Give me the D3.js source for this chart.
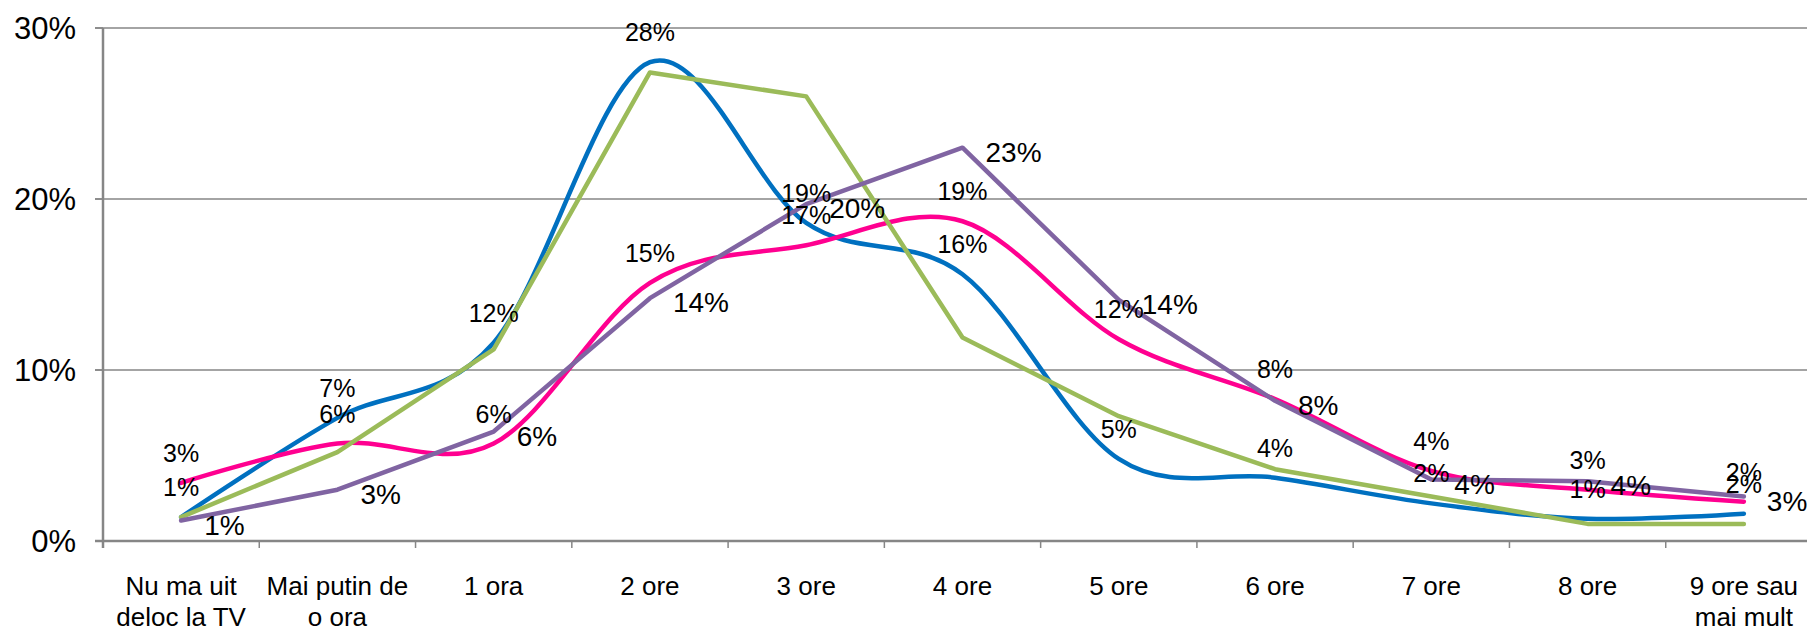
<!DOCTYPE html>
<html>
<head>
<meta charset="utf-8">
<script src="https://cdn.jsdelivr.net/npm/d3@7"></script>
<style>
  html, body { margin: 0; padding: 0; background: #ffffff; }
  svg { display: block; font-family: "Liberation Sans", Arial, sans-serif; }
</style>
</head>
<body>
<svg id="chart" width="1807" height="630"></svg>
<script>
const categories = [
  "Nu ma uit|deloc la TV", "Mai putin de|o ora", "1 ora", "2 ore", "3 ore",
  "4 ore", "5 ore", "6 ore", "7 ore", "8 ore", "9 ore sau|mai mult"
];
const blueValues   = [0.014, 0.072, 0.116, 0.280, 0.186, 0.156, 0.048, 0.037, 0.022, 0.013, 0.016];
const pinkValues   = [0.034, 0.057, 0.057, 0.151, 0.173, 0.187, 0.118, 0.083, 0.041, 0.030, 0.023];
const greenValues  = [0.014, 0.052, 0.112, 0.274, 0.260, 0.119, 0.073, 0.042, 0.026, 0.010, 0.010];
const purpleValues = [0.012, 0.030, 0.064, 0.142, 0.197, 0.230, 0.141, 0.082, 0.036, 0.035, 0.026];
const yTicks = [0, 0.10, 0.20, 0.30];

const series = [
  { values: blueValues,   color: "#0070C0", smooth: true,  label: "above" },
  { values: pinkValues,   color: "#FF0090", smooth: true,  label: "above" },
  { values: greenValues,  color: "#9BBB59", smooth: false, label: "none" },
  { values: purpleValues, color: "#8064A2", smooth: false, label: "right" }
];

const svg = d3.select("#chart");
const x = d3.scaleBand().domain(categories).range([103, 1822]);
const y = d3.scaleLinear().domain([0, 0.30]).range([541, 28]);
const cx = c => x(c) + x.bandwidth() / 2;
const fmt = v => Math.round(v * 100) + "%";

// gridlines
svg.append("g").selectAll("line").data(yTicks.filter(t => t > 0)).join("line")
  .attr("x1", 95).attr("x2", 1807)
  .attr("y1", d => y(d)).attr("y2", d => y(d))
  .attr("stroke", "#868686").attr("stroke-width", 1.5);

// y axis
const yAxis = svg.append("g");
yAxis.append("line").attr("x1", 103).attr("x2", 103).attr("y1", y(0.30)).attr("y2", 548)
  .attr("stroke", "#868686").attr("stroke-width", 2.5);
yAxis.selectAll("line.tk").data(yTicks).join("line").attr("class", "tk")
  .attr("x1", 95).attr("x2", 103).attr("y1", d => y(d)).attr("y2", d => y(d))
  .attr("stroke", "#868686").attr("stroke-width", 1.5);
yAxis.selectAll("text").data(yTicks).join("text")
  .attr("x", 76).attr("y", d => y(d)).attr("dy", "0.36em")
  .attr("text-anchor", "end").attr("font-size", 31).attr("fill", "#000")
  .text(d => Math.round(d * 100) + "%");

// x axis
const xAxis = svg.append("g");
xAxis.append("line").attr("x1", 95).attr("x2", 1807).attr("y1", y(0)).attr("y2", y(0))
  .attr("stroke", "#868686").attr("stroke-width", 2.5);
xAxis.selectAll("line.tk").data(categories).join("line").attr("class", "tk")
  .attr("x1", d => x(d)).attr("x2", d => x(d)).attr("y1", y(0)).attr("y2", 548)
  .attr("stroke", "#868686").attr("stroke-width", 1.5);
xAxis.selectAll("text").data(categories).join("text")
  .attr("text-anchor", "middle").attr("font-size", 26).attr("fill", "#000")
  .each(function(d) {
    const lines = d.split("|");
    const t = d3.select(this);
    lines.forEach((ln, i) => {
      t.append("tspan").attr("x", cx(d)).attr("y", 595 + i * 31).text(ln);
    });
  });

// lines
const lineSmooth = d3.line().x((d, i) => cx(categories[i])).y(d => y(d)).curve(d3.curveCatmullRom.alpha(0));
const lineStraight = d3.line().x((d, i) => cx(categories[i])).y(d => y(d)).curve(d3.curveLinear);
svg.append("g").selectAll("path").data(series).join("path")
  .attr("d", s => (s.smooth ? lineSmooth : lineStraight)(s.values))
  .attr("fill", "none").attr("stroke", s => s.color).attr("stroke-width", 4.5)
  .attr("stroke-linejoin", "round").attr("stroke-linecap", "round");

// labels
const lg = svg.append("g");
series.forEach(s => {
  if (s.label === "none") return;
  s.values.forEach((v, i) => {
    const px = cx(categories[i]), py = y(v);
    if (s.label === "above") {
      lg.append("text").attr("x", px).attr("y", py - 30).attr("dy", "0.36em")
        .attr("text-anchor", "middle").attr("font-size", 25).attr("fill", "#000").text(fmt(v));
    } else {
      lg.append("text").attr("x", px + 23).attr("y", py + 4).attr("dy", "0.36em")
        .attr("text-anchor", "start").attr("font-size", 28).attr("fill", "#000").text(fmt(v));
    }
  });
});
</script>
</body>
</html>
